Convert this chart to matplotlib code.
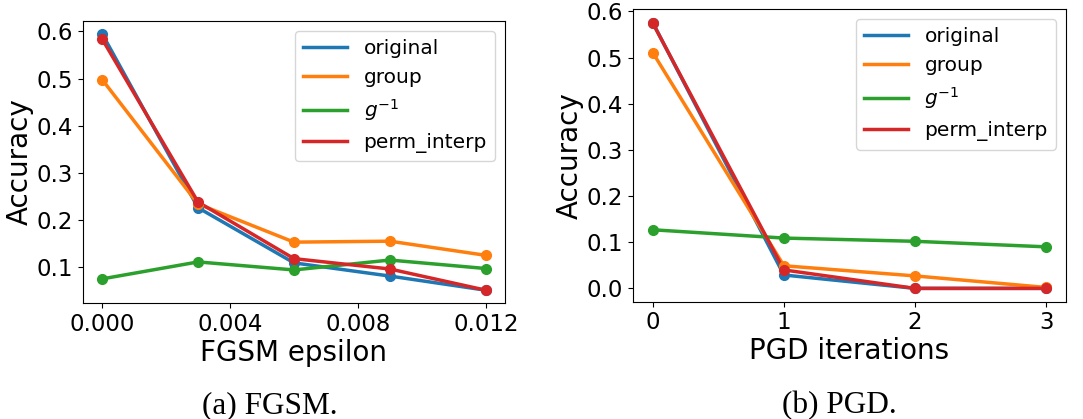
import matplotlib
matplotlib.use("Agg")
import matplotlib.pyplot as plt

# FGSM panel
fgsm_eps = [0.0, 0.003, 0.006, 0.009, 0.012]
fgsm_original = [0.595, 0.226, 0.109, 0.081, 0.051]
fgsm_group = [0.498, 0.234, 0.153, 0.155, 0.125]
fgsm_ginv = [0.075, 0.111, 0.094, 0.115, 0.097]
fgsm_perm = [0.584, 0.238, 0.118, 0.096, 0.051]

# PGD panel
pgd_iters = [0, 1, 2, 3]
pgd_original = [0.576, 0.029, 0.0, 0.0]
pgd_group = [0.511, 0.049, 0.027, 0.002]
pgd_ginv = [0.127, 0.109, 0.102, 0.090]
pgd_perm = [0.575, 0.040, 0.0, 0.0]

labels = ["original", "group", "$g^{-1}$", "perm_interp"]
colors = ["tab:blue", "tab:orange", "tab:green", "tab:red"]

tick_fs = 16.5
label_fs = 20
legend_fs = 14.5

fig = plt.figure(figsize=(10.83, 4.19), dpi=100)
ax1 = fig.add_axes([0.0766, 0.2768, 0.3897, 0.673])
ax2 = fig.add_axes([0.5845, 0.280, 0.3998, 0.698])


def draw(ax, x, series):
    for ys, lab, c in zip(series, labels, colors):
        ax.plot(x, ys, '-', color=c, lw=2.5, label=lab)
    for ys, c in zip(series, colors):
        ax.plot(x, ys, 'o', color=c, ms=7)
    ax.set_ylabel("Accuracy", fontsize=label_fs, labelpad=2)
    ax.tick_params(labelsize=tick_fs)
    ax.legend(loc="upper right", fontsize=legend_fs, handlelength=2.2)


draw(ax1, fgsm_eps, [fgsm_original, fgsm_group, fgsm_ginv, fgsm_perm])
ax1.set_xticks([0.0, 0.004, 0.008, 0.012])
ax1.set_xticklabels(["0.000", "0.004", "0.008", "0.012"])
ax1.set_xlabel("FGSM epsilon", fontsize=label_fs, labelpad=2)

draw(ax2, pgd_iters, [pgd_original, pgd_group, pgd_ginv, pgd_perm])
ax2.set_xticks(pgd_iters)
ax2.set_yticks([0.0, 0.1, 0.2, 0.3, 0.4, 0.5, 0.6])
ax2.set_xlabel("PGD iterations", fontsize=label_fs, labelpad=2)

fig.text(0.249, 0.0143, "(a) FGSM.", ha="center", va="baseline",
         family="Liberation Serif", fontsize=22.5)
fig.text(0.775, 0.0143, "(b) PGD.", ha="center", va="baseline",
         family="Liberation Serif", fontsize=22.5)

fig.savefig("out.png", dpi=100)
